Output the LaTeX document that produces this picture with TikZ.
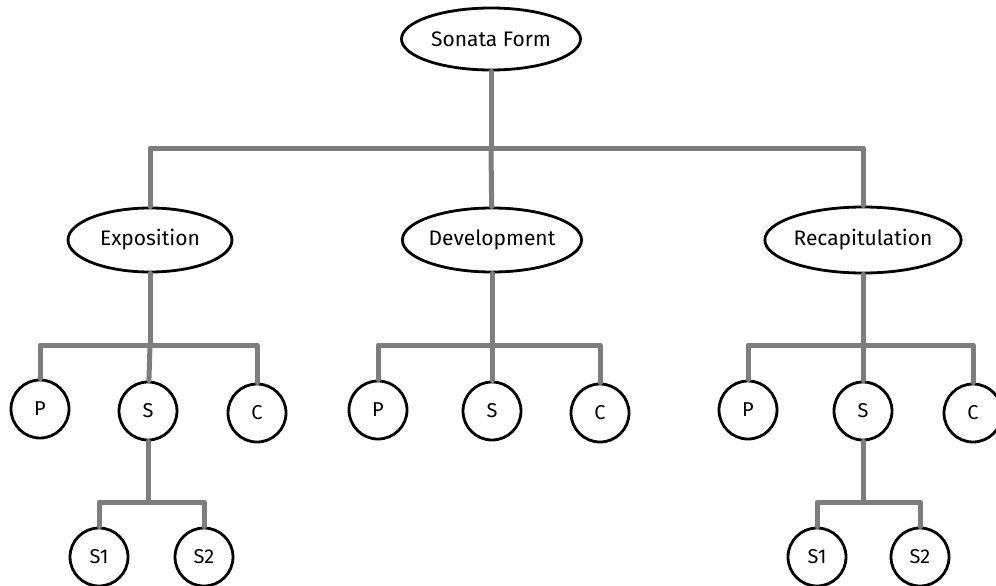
\documentclass[tikz,border=0pt]{standalone}
\usepackage{fontspec}
\setmainfont{Fira Sans}
\usetikzlibrary{shapes.geometric}
\definecolor{connc}{RGB}{125,125,125}
\tikzset{
  oval/.style={draw=black, line width=2.8pt, ellipse, inner sep=0pt, fill=white, font=\fontsize{21}{24}\selectfont},
  circ/.style={draw=black, line width=2.8pt, circle, minimum size=58pt, inner sep=0pt, fill=white, font=\fontsize{20}{24}\selectfont},
  conn/.style={draw=connc, line width=5pt, line cap=round, line join=round},
}
\begin{document}
\begin{tikzpicture}[x=1pt,y=-1pt]
\useasboundingbox (0,0) rectangle (996,586);
\clip (0,0) rectangle (996,586);
% junction coordinates
\coordinate (b0) at (491,148);
\coordinate (b1) at (150,345);
\coordinate (b2) at (492,345);
\coordinate (b3) at (863,345);
\coordinate (b4) at (148,502);
\coordinate (b5) at (863,502);
% nodes
\node[oval, minimum width=179pt, minimum height=62pt] (root) at (491,39) {Sonata Form};
\node[oval, minimum width=164pt, minimum height=64pt] (expo) at (150,240) {Exposition};
\node[oval, minimum width=166pt, minimum height=64pt] (dev) at (492,240) {Development};
\node[oval, minimum width=180pt, minimum height=66pt] (reca) at (863,240) {Recapitulation};
\node[circ] (ep) at (40,409) {P};
\node[circ] (es) at (148,411) {S};
\node[circ] (ec) at (257,413) {C};
\node[circ] (dp) at (378,410) {P};
\node[circ] (ds) at (492,411) {S};
\node[circ] (dc) at (600,413) {C};
\node[circ] (rp) at (748,410) {P};
\node[circ] (rs) at (863,411) {S};
\node[circ] (rc) at (973,413) {C};
\node[circ] (es1) at (99,557) {S1};
\node[circ] (es2) at (204,557) {S2};
\node[circ] (rs1) at (817,557) {S1};
\node[circ] (rs2) at (920,557) {S2};
% connectors
\draw[conn] (root) -- (b0);
\draw[conn] (b0) -| (expo);
\draw[conn] (b0) -- (dev);
\draw[conn] (b0) -| (reca);
\draw[conn] (expo) -- (b1);
\draw[conn] (b1) -| (ep);
\draw[conn] (b1) -| (ec);
\draw[conn] (b1) -- (es);
\draw[conn] (dev) -- (b2);
\draw[conn] (b2) -| (dp);
\draw[conn] (b2) -| (dc);
\draw[conn] (b2) -- (ds);
\draw[conn] (reca) -- (b3);
\draw[conn] (b3) -| (rp);
\draw[conn] (b3) -| (rc);
\draw[conn] (b3) -- (rs);
\draw[conn] (es) -- (b4);
\draw[conn] (b4) -| (es1);
\draw[conn] (b4) -| (es2);
\draw[conn] (rs) -- (b5);
\draw[conn] (b5) -| (rs1);
\draw[conn] (b5) -| (rs2);
\end{tikzpicture}
\end{document}
